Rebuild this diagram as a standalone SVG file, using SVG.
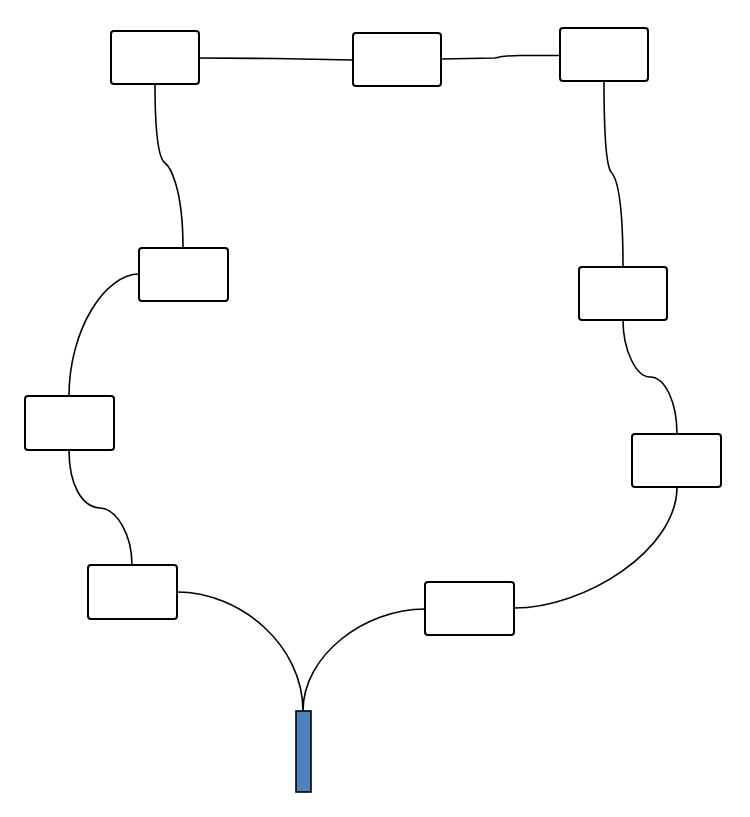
<svg xmlns="http://www.w3.org/2000/svg" width="750" height="817" viewBox="0 0 750 817">
<style>
.n{fill:#fff;stroke:#000;stroke-width:2}
.c{fill:none;stroke:#000;stroke-width:1.6}
</style>
<rect width="750" height="817" fill="#fff"/>
<g id="connectors">
<path class="c" d="M199,58 L275,58.5 L353,60"/>
<path class="c" d="M441,59 L495,58 C503,56 508,55.5 520,55.5 L560,55.5"/>
<path class="c" d="M155,84 C155,125 158,158 165,163 C169,166 183,185 183,248"/>
<path class="c" d="M604,81 C604,125 606,165 611,172 C617,178 623,200 623,267"/>
<path class="c" d="M623,320 C623,350 636,377 650,377 C665,377 677,402 677,434"/>
<path class="c" d="M677,487 C677,550 585,608 514,608"/>
<path class="c" d="M425,609 C365,609 303,655 303,711"/>
<path class="c" d="M177,592 C240,592 303,645 303,711"/>
<path class="c" d="M69,450 C69,485 82,507 100,508 C117,509 132,535 132,565"/>
<path class="c" d="M69,396 C69,330 105,274 139,274"/>
</g>
<g id="n1"><rect class="n" x="111" y="31" width="88" height="53" rx="3"/></g>
<g id="n2"><rect class="n" x="353" y="33" width="88" height="53" rx="3"/></g>
<g id="n3"><rect class="n" x="560" y="28" width="88" height="53" rx="3"/></g>
<g id="n4"><rect class="n" x="579" y="267" width="88" height="53" rx="3"/></g>
<g id="n5"><rect class="n" x="632" y="434" width="89" height="53" rx="3"/></g>
<g id="n6"><rect class="n" x="425" y="582" width="89" height="53" rx="3"/></g>
<g id="n7"><rect class="n" x="88" y="565" width="89" height="54" rx="3"/></g>
<g id="n8"><rect class="n" x="25" y="396" width="89" height="54" rx="3"/></g>
<g id="n9"><rect class="n" x="139" y="248" width="89" height="53" rx="3"/></g>
<g id="bar"><rect x="296" y="711" width="15" height="81" fill="#4f81bd" stroke="#000" stroke-width="1.6"/></g>
</svg>
